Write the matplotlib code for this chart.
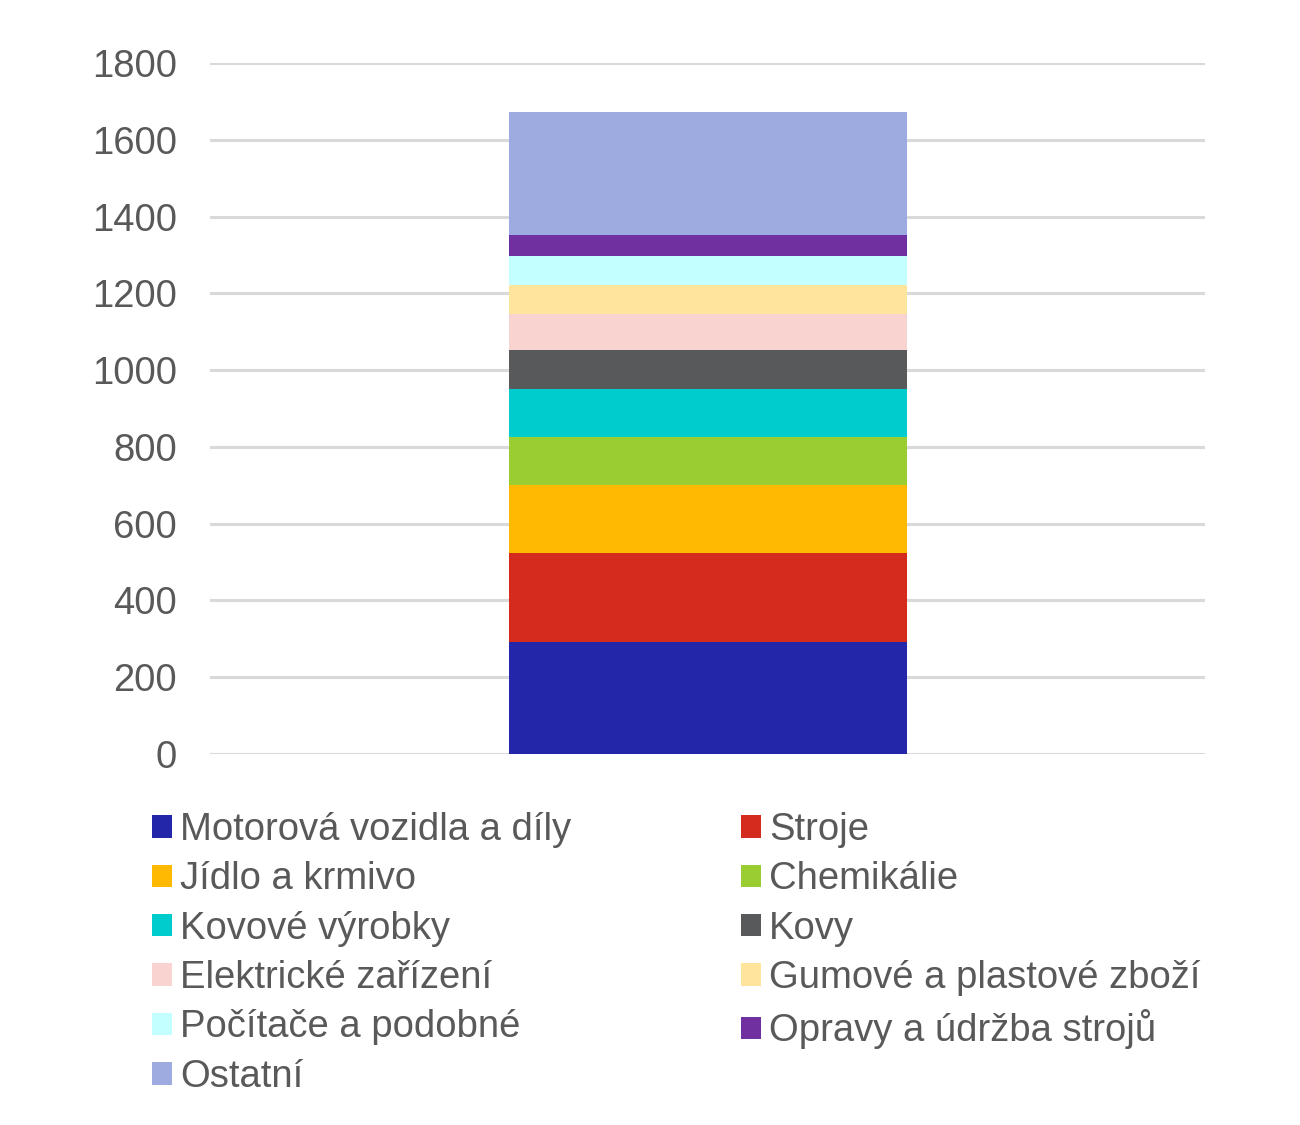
import matplotlib
matplotlib.use("Agg")
import matplotlib.pyplot as plt
from matplotlib.patches import Patch

plt.rcParams['font.family'] = ['Liberation Sans', 'DejaVu Sans']

categories = ["Motorová vozidla a díly", "Stroje", "Jídlo a krmivo", "Chemikálie",
              "Kovové výrobky", "Kovy", "Elektrické zařízení", "Gumové a plastové zboží",
              "Počítače a podobné", "Opravy a údržba strojů", "Ostatní"]
values = [292, 232, 177, 125, 125, 102, 94, 75, 76, 55, 320]
colors = ["#2326A8", "#D52B1E", "#FFB900", "#9ACD32", "#00CCCE", "#58595B",
          "#F8D3D0", "#FFE49B", "#C4FFFF", "#7030A0", "#9DABE0"]
yticks = [0, 200, 400, 600, 800, 1000, 1200, 1400, 1600, 1800]

fig = plt.figure(figsize=(13, 11.25), dpi=100)
ax = fig.add_axes([210/1300, 1-754/1125, 995/1300, 691/1125])

bottom = 0
for v, c in zip(values, colors):
    ax.bar(0, v, width=1.0, bottom=bottom, color=c, linewidth=0, zorder=3)
    bottom += v

ax.set_xlim(-1.25, 1.25)
ax.set_ylim(0, 1800)
ax.set_yticks(yticks)
ax.set_xticks([])
ax.yaxis.grid(True, color="#D9D9D9", linewidth=2.2, zorder=0)
ax.set_axisbelow(True)
for s in ax.spines.values():
    s.set_visible(False)
ax.tick_params(axis='y', length=0, pad=24, labelsize=27.5, labelcolor="#595959")

# legend: row-wise order, matplotlib fills column-wise
handles = [Patch(facecolor=c, edgecolor='none') for c in colors]
col1 = [0, 2, 4, 6, 8, 10]
col2 = [1, 3, 5, 7, 9]
order = col1 + col2
fig.legend([handles[i] for i in order], [categories[i] for i in order],
           loc='upper left', bbox_to_anchor=(152/1300, 1-812/1125), ncol=2,
           frameon=False, fontsize=27.5, labelcolor="#595959",
           handlelength=0.53, handleheight=0.53, handletextpad=0.2,
           columnspacing=4.45, labelspacing=0.35, borderaxespad=0, borderpad=0)

fig.savefig("out.png", dpi=100)
